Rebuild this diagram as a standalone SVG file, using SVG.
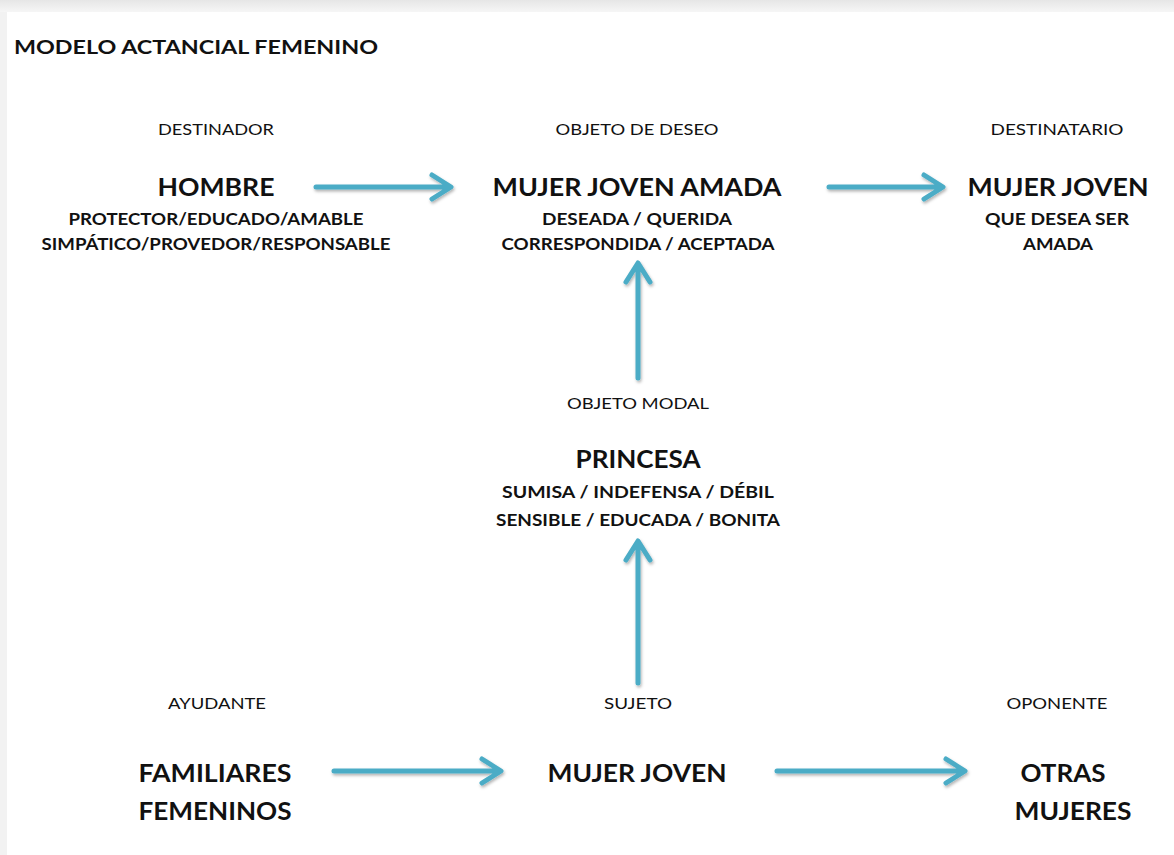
<svg xmlns="http://www.w3.org/2000/svg" width="1174" height="855" viewBox="0 0 1174 855">
<defs>
<style>
text{font-family:Lato,"Open Sans","Liberation Sans",sans-serif;fill:#111;text-anchor:middle}
.lbl{font-size:16px;font-weight:400}
.big{font-size:25px;font-weight:700}
.sub{font-size:17px;font-weight:700}
.title{font-size:19px;font-weight:700;text-anchor:start}
.arr{stroke:#4bacc6;stroke-width:5;fill:none;stroke-linecap:round;stroke-linejoin:round}
</style>
<filter id="sh" x="-20%" y="-50%" width="140%" height="200%">
<feDropShadow dx="1" dy="2" stdDeviation="1.5" flood-color="#000" flood-opacity="0.3"/>
</filter>
<linearGradient id="top" x1="0" y1="0" x2="0" y2="1">
<stop offset="0" stop-color="#e6e6e6"/>
<stop offset="1" stop-color="#f6f6f6"/>
</linearGradient>
</defs>
<rect width="1174" height="855" fill="#f2f2f2"/>
<rect width="1174" height="12" fill="url(#top)"/>
<rect x="7" y="12" width="1167" height="843" fill="#ffffff"/>
<text class="title" x="14" y="54" textLength="364" lengthAdjust="spacingAndGlyphs">MODELO  ACTANCIAL FEMENINO</text>

<g id="destinador">
<text class="lbl" x="216" y="135" textLength="116" lengthAdjust="spacingAndGlyphs">DESTINADOR</text>
<text class="big" x="216" y="196" textLength="117" lengthAdjust="spacingAndGlyphs">HOMBRE</text>
<text class="sub" x="216" y="225" textLength="295" lengthAdjust="spacingAndGlyphs">PROTECTOR/EDUCADO/AMABLE</text>
<text class="sub" x="216" y="250" textLength="349" lengthAdjust="spacingAndGlyphs">SIMPÁTICO/PROVEDOR/RESPONSABLE</text>
</g>
<g id="objeto">
<text class="lbl" x="637" y="135" textLength="163" lengthAdjust="spacingAndGlyphs">OBJETO DE DESEO</text>
<text class="big" x="637" y="196" textLength="289" lengthAdjust="spacingAndGlyphs">MUJER JOVEN AMADA</text>
<text class="sub" x="637" y="225" textLength="190" lengthAdjust="spacingAndGlyphs">DESEADA / QUERIDA</text>
<text class="sub" x="638" y="250" textLength="273" lengthAdjust="spacingAndGlyphs">CORRESPONDIDA / ACEPTADA</text>
</g>
<g id="destinatario">
<text class="lbl" x="1057" y="135" textLength="133" lengthAdjust="spacingAndGlyphs">DESTINATARIO</text>
<text class="big" x="1058" y="196" textLength="181" lengthAdjust="spacingAndGlyphs">MUJER JOVEN</text>
<text class="sub" x="1057" y="225" textLength="144" lengthAdjust="spacingAndGlyphs">QUE DESEA SER</text>
<text class="sub" x="1058" y="250" textLength="70" lengthAdjust="spacingAndGlyphs">AMADA</text>
</g>
<g id="objeto-modal">
<text class="lbl" x="638" y="409" textLength="142" lengthAdjust="spacingAndGlyphs">OBJETO MODAL</text>
<text class="big" x="638" y="468" textLength="125" lengthAdjust="spacingAndGlyphs">PRINCESA</text>
<text class="sub" x="638" y="498" textLength="272" lengthAdjust="spacingAndGlyphs">SUMISA / INDEFENSA / DÉBIL</text>
<text class="sub" x="638" y="526" textLength="284" lengthAdjust="spacingAndGlyphs">SENSIBLE / EDUCADA / BONITA</text>
</g>
<g id="ayudante">
<text class="lbl" x="217" y="709" textLength="98" lengthAdjust="spacingAndGlyphs">AYUDANTE</text>
<text class="big" x="215" y="782" textLength="153" lengthAdjust="spacingAndGlyphs">FAMILIARES</text>
<text class="big" x="215" y="820" textLength="153" lengthAdjust="spacingAndGlyphs">FEMENINOS</text>
</g>
<g id="sujeto">
<text class="lbl" x="638" y="709" textLength="68" lengthAdjust="spacingAndGlyphs">SUJETO</text>
<text class="big" x="637" y="782" textLength="179" lengthAdjust="spacingAndGlyphs">MUJER JOVEN</text>
</g>
<g id="oponente">
<text class="lbl" x="1057" y="709" textLength="101" lengthAdjust="spacingAndGlyphs">OPONENTE</text>
<text class="big" x="1063" y="782" textLength="85" lengthAdjust="spacingAndGlyphs">OTRAS</text>
<text class="big" x="1073" y="820" textLength="117" lengthAdjust="spacingAndGlyphs">MUJERES</text>
</g>

<g id="connectors" filter="url(#sh)">
<path class="arr" d="M316,187 H450 M432,175 L451,187 L432,199"/>
<path class="arr" d="M829,187 H942 M924,175 L943,187 L924,199"/>
<path class="arr" d="M638,378 V264 M626,282 L638,263 L650,282"/>
<path class="arr" d="M638,683 V542 M626,560 L638,541 L650,560"/>
<path class="arr" d="M334,771 H500 M482,759 L501,771 L482,783"/>
<path class="arr" d="M777,771 H964 M946,759 L965,771 L946,783"/>
</g>
</svg>
